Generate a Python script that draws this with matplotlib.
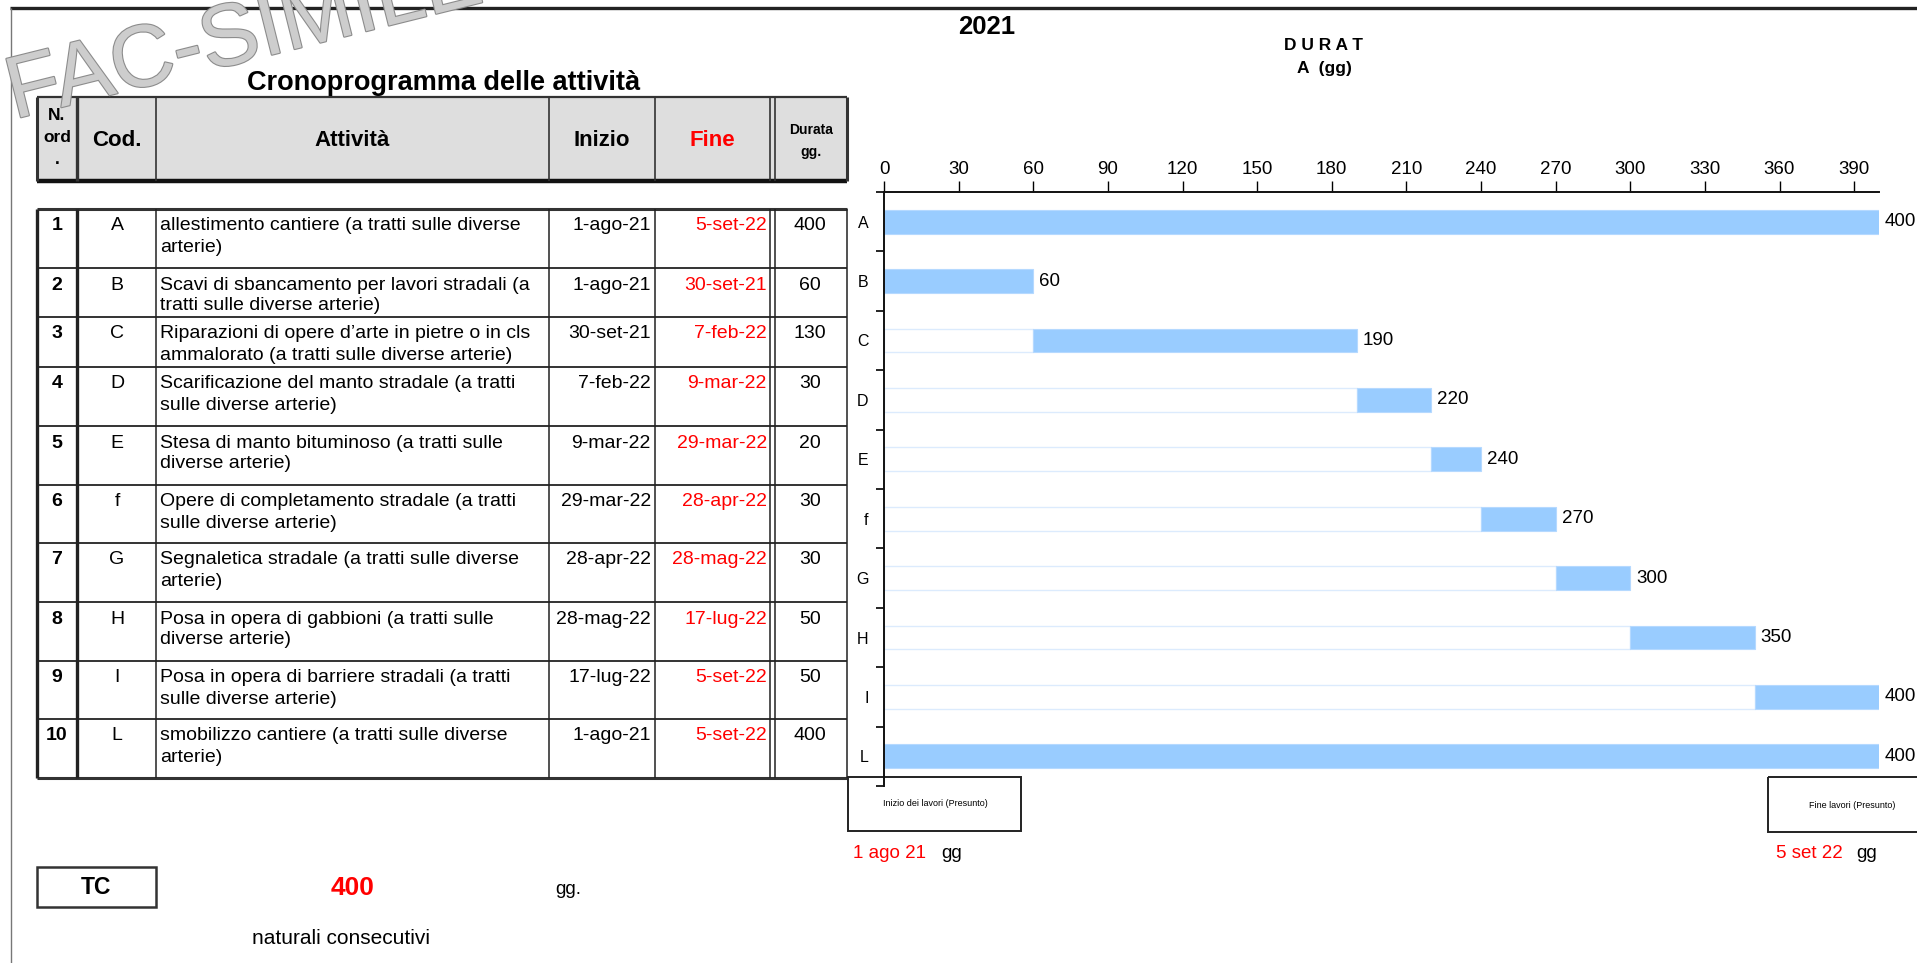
import matplotlib
matplotlib.use('Agg')
import matplotlib.pyplot as plt
import matplotlib.patheffects as pe
from matplotlib.patches import Rectangle

plt.rcParams['font.family'] = ['Liberation Sans', 'DejaVu Sans']

# ---- data ----
nord = [1, 2, 3, 4, 5, 6, 7, 8, 9, 10]
codes = ['A', 'B', 'C', 'D', 'E', 'f', 'G', 'H', 'I', 'L']
attivita = [
    ['allestimento cantiere (a tratti sulle diverse', 'arterie)'],
    ['Scavi di sbancamento per lavori stradali (a', 'tratti sulle diverse arterie)'],
    ['Riparazioni di opere d\u2019arte in pietre o in cls', 'ammalorato (a tratti sulle diverse arterie)'],
    ['Scarificazione del manto stradale (a tratti', 'sulle diverse arterie)'],
    ['Stesa di manto bituminoso (a tratti sulle', 'diverse arterie)'],
    ['Opere di completamento stradale (a tratti', 'sulle diverse arterie)'],
    ['Segnaletica stradale (a tratti sulle diverse', 'arterie)'],
    ['Posa in opera di gabbioni (a tratti sulle', 'diverse arterie)'],
    ['Posa in opera di barriere stradali (a tratti', 'sulle diverse arterie)'],
    ['smobilizzo cantiere (a tratti sulle diverse', 'arterie)'],
]
inizio = ['1-ago-21', '1-ago-21', '30-set-21', '7-feb-22', '9-mar-22',
          '29-mar-22', '28-apr-22', '28-mag-22', '17-lug-22', '1-ago-21']
fine = ['5-set-22', '30-set-21', '7-feb-22', '9-mar-22', '29-mar-22',
        '28-apr-22', '28-mag-22', '17-lug-22', '5-set-22', '5-set-22']
durata = [400, 60, 130, 30, 20, 30, 30, 50, 50, 400]
start = [0, 0, 60, 190, 220, 240, 270, 300, 350, 0]
x_ticks = list(range(0, 391, 30))
totale = 400
data_inizio = '1 ago 21'
data_fine = '5 set 22'

# ---- layout (pixels) ----
W, H = 1917, 963
row_edges = [209, 268, 317, 367, 426, 485, 543, 602, 661, 719, 778]
col_x = [37, 77, 156, 549, 655, 770, 775, 847]

fig = plt.figure(figsize=(W / 100, H / 100), dpi=100)
bg = fig.add_axes([0, 0, 1, 1])
bg.set_xlim(0, W)
bg.set_ylim(H, 0)
bg.axis('off')

def line(x0, y0, x1, y1, lw=1.2, color='#333333', z=2):
    bg.plot([x0, x1], [y0, y1], color=color, lw=lw, solid_capstyle='butt', zorder=z)

# outer frame
line(10, 8, W, 8, lw=2.4, color='#222222')
line(11, 8, 11, H, lw=1.0, color='#777777')

# title
bg.text(444, 83, 'Cronoprogramma delle attivit\u00e0', fontsize=19.5, fontweight='bold',
        ha='center', va='center')

# header
bg.add_patch(Rectangle((37, 97), 810, 84, facecolor='#dedede', edgecolor='none', zorder=1))
line(37, 97, 847, 97, lw=1.6)
line(37, 181, 847, 181, lw=3.2, color='#111111')
for x, lw in zip(col_x, [2.2, 2.4, 1.2, 1.2, 1.2, 1.2, 1.2, 2.2]):
    line(x, 97, x, 181, lw=lw)
bg.text(57, 116, 'N.', fontsize=12.5, fontweight='bold', ha='center', va='center')
bg.text(57, 138, 'ord', fontsize=12.5, fontweight='bold', ha='center', va='center')
bg.text(57, 159, '.', fontsize=12.5, fontweight='bold', ha='center', va='center')
bg.text(117, 140, 'Cod.', fontsize=16, fontweight='bold', ha='center', va='center')
bg.text(352, 140, 'Attivit\u00e0', fontsize=16, fontweight='bold', ha='center', va='center')
bg.text(602, 140, 'Inizio', fontsize=16, fontweight='bold', ha='center', va='center')
bg.text(712, 140, 'Fine', fontsize=16, fontweight='bold', ha='center', va='center', color='#ff0000')
bg.text(811, 130, 'Durata', fontsize=10, fontweight='bold', ha='center', va='center')
bg.text(811, 152, 'gg.', fontsize=10, fontweight='bold', ha='center', va='center')

# table body
for i in range(len(nord)):
    top = row_edges[i]
    yy = top + 17
    bg.text(57, yy, str(nord[i]), fontsize=14, fontweight='bold', ha='center', va='center')
    bg.text(117, yy, codes[i], fontsize=14, ha='center', va='center')
    bg.text(160, yy, attivita[i][0], fontsize=14, ha='left', va='center')
    bg.text(160, yy + 21, attivita[i][1], fontsize=14, ha='left', va='center')
    bg.text(651, yy, inizio[i], fontsize=14, ha='right', va='center')
    bg.text(767, yy, fine[i], fontsize=14, ha='right', va='center', color='#ff0000')
    bg.text(810, yy, str(durata[i]), fontsize=14, ha='center', va='center')
for j, y in enumerate(row_edges):
    lw = 2.2 if j in (0, len(row_edges) - 1) else 1.4
    line(37, y, 847, y, lw=lw, color='#333333')
for x, lw in zip(col_x, [2.4, 2.4, 1.1, 1.1, 1.1, 1.1, 1.1, 1.1]):
    line(x, row_edges[0], x, row_edges[-1], lw=lw, color='#222222')

# bottom boxes
bg.add_patch(Rectangle((848, 777), 173, 54, facecolor='none', edgecolor='#222222', lw=1.4, zorder=2))
bg.text(935, 804, 'Inizio dei lavori (Presunto)', fontsize=6.5, ha='center', va='center')
bg.add_patch(Rectangle((1768, 777), 160, 55, facecolor='none', edgecolor='#222222', lw=1.4, zorder=2))
bg.text(1852, 805, 'Fine lavori (Presunto)', fontsize=6.5, ha='center', va='center')

bg.text(853, 853, data_inizio, fontsize=13.5, color='#ff0000', ha='left', va='center')
bg.text(941, 853, 'gg', fontsize=13.5, ha='left', va='center')
bg.text(1776, 853, data_fine, fontsize=13.5, color='#ff0000', ha='left', va='center')
bg.text(1856, 853, 'gg', fontsize=13.5, ha='left', va='center')

bg.add_patch(Rectangle((37, 867), 119, 40, facecolor='none', edgecolor='#333333', lw=1.8, zorder=2))
bg.text(96, 888, 'TC', fontsize=16.5, fontweight='bold', ha='center', va='center')
bg.text(353, 888, str(totale), fontsize=19, fontweight='bold', color='#ff0000', ha='center', va='center')
bg.text(555, 890, 'gg.', fontsize=13.5, ha='left', va='center')
bg.text(252, 939, 'naturali consecutivi', fontsize=15, ha='left', va='center')

# chart headings
bg.text(987, 27, '2021', fontsize=18.5, fontweight='bold', ha='center', va='center')
bg.text(1324, 46, 'D U R A T', fontsize=12.5, fontweight='bold', ha='center', va='center')
bg.text(1324, 68, 'A  (gg)', fontsize=12.5, fontweight='bold', ha='center', va='center')

# watermark
bg.text(14, 119, 'FAC-SIMILE', fontsize=63, color='#cdcdcd', rotation=14,
        rotation_mode='anchor', ha='left', va='baseline', zorder=5,
        path_effects=[pe.withStroke(linewidth=1.6, foreground='#8c8c8c')])

# ---- gantt ----
gx = fig.add_axes([884 / W, 1 - 786 / H, (1879 - 884) / W, (786 - 192) / H])
gx.set_facecolor('none')
ypos = list(range(len(codes)))
gx.barh(ypos, start, height=0.4, color='white', edgecolor='#dcebfd', linewidth=1.0)
gx.barh(ypos, durata, left=start, height=0.4, color='#99ccff', edgecolor='#b5d9ff', linewidth=0.8)
for i in ypos:
    end = start[i] + durata[i]
    gx.text(end + 2.4, i, str(end), fontsize=13.5, ha='left', va='center', clip_on=False)

gx.set_xlim(0, 400)
gx.set_ylim(len(codes) - 0.5, -0.5)
gx.xaxis.tick_top()
gx.set_xticks(x_ticks)
gx.tick_params(axis='x', direction='out', length=8, width=1, pad=2, labelsize=13.5)
gx.set_yticks(ypos)
gx.set_yticklabels(codes)
gx.set_yticks([p - 0.5 for p in ypos] + [len(codes) - 0.5], minor=True)
gx.tick_params(axis='y', which='major', length=0, pad=11, labelsize=11.5)
gx.tick_params(axis='y', which='minor', length=6, width=1.2, direction='out')
for s in ['right', 'bottom']:
    gx.spines[s].set_visible(False)
for s in ['top', 'left']:
    gx.spines[s].set_linewidth(1.4)
    gx.spines[s].set_color('#111111')

fig.savefig('out.png', dpi=100)
